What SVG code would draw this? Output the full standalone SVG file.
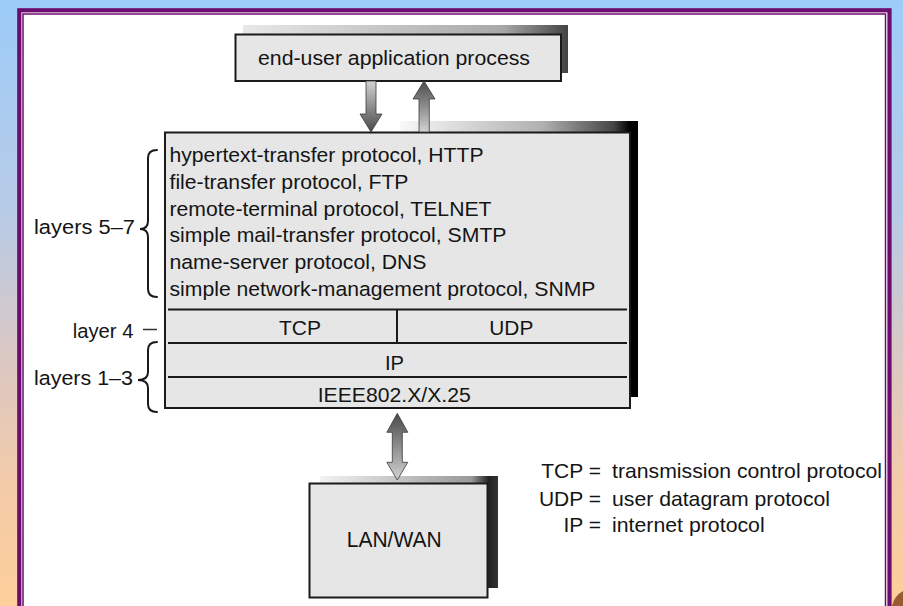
<svg xmlns="http://www.w3.org/2000/svg" width="903" height="606" viewBox="0 0 903 606">
<defs>
<linearGradient id="bg" x1="0" y1="0" x2="0" y2="1">
<stop offset="0" stop-color="#9dccf9"/>
<stop offset="0.35" stop-color="#b7cbe6"/>
<stop offset="0.6" stop-color="#dcc8c2"/>
<stop offset="0.8" stop-color="#f3cba9"/>
<stop offset="1" stop-color="#fecf9a"/>
</linearGradient>
<linearGradient id="shadowTop" x1="0" y1="0" x2="1" y2="0">
<stop offset="0" stop-color="#f8f8f8"/>
<stop offset="0.6" stop-color="#b0b0b0"/>
<stop offset="0.9" stop-color="#444"/>
<stop offset="0.965" stop-color="#000"/>
<stop offset="1" stop-color="#000"/>
</linearGradient>
<linearGradient id="shadowSmall" x1="0" y1="0" x2="1" y2="0">
<stop offset="0" stop-color="#e8e8e8"/>
<stop offset="0.8" stop-color="#a8a8a8"/>
<stop offset="1" stop-color="#444"/>
</linearGradient>
<linearGradient id="shadowLan" x1="0" y1="0" x2="1" y2="0">
<stop offset="0" stop-color="#f2f2f2"/>
<stop offset="0.85" stop-color="#999"/>
<stop offset="0.95" stop-color="#222"/>
<stop offset="1" stop-color="#333"/>
</linearGradient>
<linearGradient id="gDown" x1="0" y1="0" x2="0" y2="1">
<stop offset="0" stop-color="#d2d2d2"/>
<stop offset="1" stop-color="#4a4a4a"/>
</linearGradient>
<linearGradient id="gUp" x1="0" y1="0" x2="0" y2="1">
<stop offset="0" stop-color="#4a4a4a"/>
<stop offset="1" stop-color="#d2d2d2"/>
</linearGradient>
</defs>
<style>
.box{fill:#e6e6e6;stroke:#1a1a1a;stroke-width:2}
.sep{stroke:#1a1a1a;stroke-width:2;fill:none}
.t{font-family:"Liberation Sans",Arial,sans-serif;font-size:20.5px;fill:#141414}
.lg{font-size:21px}
.arrow{stroke:#3a3a3a;stroke-width:0.8}
.brace{fill:none;stroke:#1a1a1a;stroke-width:2;stroke-linecap:round}
</style>

<g id="background">
<rect x="0" y="0" width="903" height="606" fill="url(#bg)"/>
<path d="M892,606 Q894,596 903,591 L903,606 Z" fill="#9a5a32"/>
<rect x="19.3" y="10.3" width="870.2" height="620" fill="#fff" stroke="#6b0c6e" stroke-width="4.2"/>
<rect x="23" y="14" width="862.5" height="620" fill="#fff" stroke="#6b0c6e" stroke-width="1.5"/>
</g>

<g id="end-user">
<rect x="243" y="25" width="325" height="48" fill="url(#shadowSmall)"/>
<rect class="box" x="235.5" y="34.5" width="325.5" height="46.5"/>
<text class="t" x="258" y="65" textLength="272" lengthAdjust="spacingAndGlyphs">end-user application process</text>
</g>

<g id="protocol-stack">
<rect x="400" y="121" width="238" height="276" fill="url(#shadowTop)"/>
<rect class="box" x="165" y="132.5" width="465" height="275.5"/>
<text class="t" x="169.5" y="162" textLength="314" lengthAdjust="spacingAndGlyphs">hypertext-transfer protocol, HTTP</text>
<text class="t" x="169.5" y="188.5" textLength="239" lengthAdjust="spacingAndGlyphs">file-transfer protocol, FTP</text>
<text class="t" x="169.5" y="215.5" textLength="322" lengthAdjust="spacingAndGlyphs">remote-terminal protocol, TELNET</text>
<text class="t" x="169.5" y="242" textLength="337" lengthAdjust="spacingAndGlyphs">simple mail-transfer protocol, SMTP</text>
<text class="t" x="169.5" y="268.5" textLength="257" lengthAdjust="spacingAndGlyphs">name-server protocol, DNS</text>
<text class="t" x="169.5" y="295.5" textLength="426" lengthAdjust="spacingAndGlyphs">simple network-management protocol, SNMP</text>
<path class="sep" d="M168,309.5 H627 M168,343 H627 M168,377 H627 M397,309.5 V343"/>
<text class="t" x="300" y="335" text-anchor="middle" textLength="42" lengthAdjust="spacingAndGlyphs">TCP</text>
<text class="t" x="511.3" y="335" text-anchor="middle" textLength="44" lengthAdjust="spacingAndGlyphs">UDP</text>
<text class="t" x="394.5" y="370" text-anchor="middle" textLength="19" lengthAdjust="spacingAndGlyphs">IP</text>
<text class="t" x="394.2" y="401.5" text-anchor="middle" textLength="153" lengthAdjust="spacingAndGlyphs">IEEE802.X/X.25</text>
</g>

<g id="lan-wan">
<rect x="320" y="476" width="178" height="112" fill="url(#shadowLan)"/>
<rect class="box" x="309.5" y="483.5" width="178" height="114"/>
<text class="t" x="394.2" y="547" text-anchor="middle" style="font-size:21.5px" textLength="95" lengthAdjust="spacingAndGlyphs">LAN/WAN</text>
</g>

<g id="layer-labels">
<text class="t" x="34" y="234.3" textLength="101" lengthAdjust="spacingAndGlyphs">layers 5–7</text>
<path class="brace" d="M157,150 Q148,150 148,158 L148,221 Q148,229 140,229 Q148,229 148,237 L148,289 Q148,297 157,297"/>
<text class="t" x="72.7" y="338.3" textLength="60.7" lengthAdjust="spacingAndGlyphs">layer 4</text>
<path d="M143,329.5 H157" stroke="#333" stroke-width="1.5"/>
<text class="t" x="34" y="385" textLength="99" lengthAdjust="spacingAndGlyphs">layers 1–3</text>
<path class="brace" d="M157,342 Q148,342 148,350 L148,372 Q148,380 138,380 Q148,380 148,388 L148,404 Q148,412 157,412"/>
</g>

<g id="legend">
<text class="t lg" x="601" y="478.3" text-anchor="end">TCP =</text>
<text class="t lg" x="612" y="478.3" textLength="270" lengthAdjust="spacingAndGlyphs">transmission control protocol</text>
<text class="t lg" x="601" y="505.5" text-anchor="end">UDP =</text>
<text class="t lg" x="612" y="505.5" textLength="218" lengthAdjust="spacingAndGlyphs">user datagram protocol</text>
<text class="t lg" x="601" y="532.3" text-anchor="end">IP =</text>
<text class="t lg" x="612" y="532.3" textLength="152.7" lengthAdjust="spacingAndGlyphs">internet protocol</text>
</g>

<g id="connectors">
<polygon class="arrow" fill="url(#gDown)" points="366,81 376,81 376,114 382,114 371,132 360,114 366,114"/>
<polygon class="arrow" fill="url(#gUp)" points="424,81 435,99 429.3,99 429.3,132 419,132 419,99 413,99"/>
<polygon class="arrow" fill="url(#gUp)" points="397.3,413.3 407.8,432.3 402.3,432.3 402.3,462.3 407.8,462.3 397.3,480 386.8,462.3 392.3,462.3 392.3,432.3 386.8,432.3"/>
</g>
</svg>
